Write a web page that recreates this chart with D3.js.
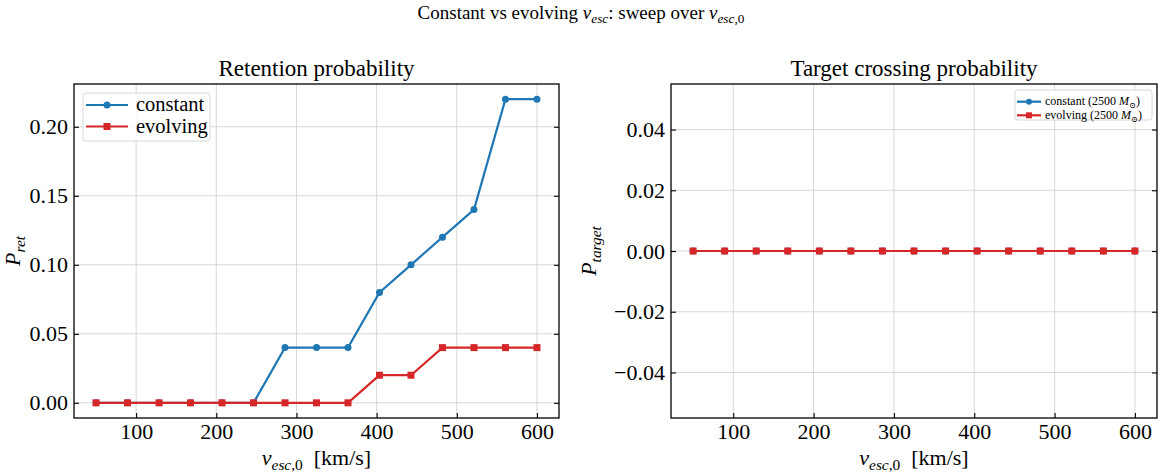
<!DOCTYPE html>
<html>
<head>
<meta charset="utf-8">
<script src="https://cdn.jsdelivr.net/npm/d3@7"></script>
<style>
  body { margin: 0; background: #fff; }
  svg text { font-family: "Liberation Serif", "DejaVu Serif", serif; fill: #000; }
</style>
</head>
<body>
<script>
// escape velocity sweep (km/s)
const vesc0 = [50, 89.29, 128.57, 167.86, 207.14, 246.43, 285.71, 325, 364.29, 403.57, 442.86, 482.14, 521.43, 560.71, 600];

// retention probability
const pRetConstant = [0, 0, 0, 0, 0, 0, 0.04, 0.04, 0.04, 0.08, 0.10, 0.12, 0.14, 0.22, 0.22];
const pRetEvolving = [0, 0, 0, 0, 0, 0, 0, 0, 0, 0.02, 0.02, 0.04, 0.04, 0.04, 0.04];

// target crossing probability
const pTargetConstant = [0, 0, 0, 0, 0, 0, 0, 0, 0, 0, 0, 0, 0, 0, 0];
const pTargetEvolving = [0, 0, 0, 0, 0, 0, 0, 0, 0, 0, 0, 0, 0, 0, 0];

const xTicks = [100, 200, 300, 400, 500, 600];
const yTicksRet = [0, 0.05, 0.10, 0.15, 0.20];
const yTicksTarget = [-0.04, -0.02, 0, 0.02, 0.04];

const WIDTH = 1162, HEIGHT = 476;
const BLUE = "#1f77b4", RED = "#d62728";
const SERIF = "'Liberation Serif', 'DejaVu Serif', serif";

const svg = d3.select("body").append("svg")
    .attr("width", WIDTH)
    .attr("height", HEIGHT);

// little helper for math-ish text: segments of [text, italic?, shift]
function mathText(sel, parts, size) {
    parts.forEach(p => {
        let [t, it, shift] = p;
        let ts = sel.append("tspan").text(t);
        if (it) ts.attr("font-style", "italic");
        if (shift === "sub") {
            ts.attr("font-size", size * 0.7).attr("baseline-shift", -size * 0.22);
        }
    });
    return sel;
}

function panel(opt) {
    const m = opt.box; // left, top, right, bottom in px
    const w = m.right - m.left, h = m.bottom - m.top;

    const g = svg.append("g").attr("transform", "translate(" + m.left + "," + m.top + ")");

    const x = d3.scaleLinear().domain([22.5, 627.5]).range([0, w]);
    const y = d3.scaleLinear().domain(opt.yDomain).range([h, 0]);

    // grid
    g.append("g").selectAll("line.gx").data(xTicks).enter().append("line")
        .attr("x1", d => x(d)).attr("x2", d => x(d))
        .attr("y1", 0).attr("y2", h)
        .attr("stroke", "#d4d4d4").attr("stroke-width", 0.9);
    g.append("g").selectAll("line.gy").data(opt.yTicks).enter().append("line")
        .attr("x1", 0).attr("x2", w)
        .attr("y1", d => y(d)).attr("y2", d => y(d))
        .attr("stroke", "#d4d4d4").attr("stroke-width", 0.9);

    // series
    const line = d3.line().x(d => x(d[0])).y(d => y(d[1]));
    const c = vesc0.map((v, i) => [v, opt.constant[i]]);
    const e = vesc0.map((v, i) => [v, opt.evolving[i]]);

    g.append("path").datum(c).attr("d", line)
        .attr("fill", "none").attr("stroke", BLUE).attr("stroke-width", 2.2);
    g.selectAll("circle.c").data(c).enter().append("circle")
        .attr("cx", d => x(d[0])).attr("cy", d => y(d[1]))
        .attr("r", 3.5).attr("fill", BLUE);

    g.append("path").datum(e).attr("d", line)
        .attr("fill", "none").attr("stroke", RED).attr("stroke-width", 2.2);
    g.selectAll("rect.e").data(e).enter().append("rect")
        .attr("x", d => x(d[0]) - 3.5).attr("y", d => y(d[1]) - 3.5)
        .attr("width", 7).attr("height", 7).attr("fill", RED);

    // axes (ticks pointing inward)
    const fmt = d3.format(".2f");
    const xAx = g.append("g").attr("transform", "translate(0," + h + ")")
        .call(d3.axisBottom(x).tickValues(xTicks).tickSize(-5).tickPadding(5));
    const yAx = g.append("g")
        .call(d3.axisLeft(y).tickValues(opt.yTicks).tickSize(-5).tickPadding(6)
            .tickFormat(d => fmt(d).replace("-", "\u2212")));
    const yAxR = g.append("g").attr("transform", "translate(" + w + ",0)")
        .call(d3.axisRight(y).tickValues(opt.yTicks).tickSize(-5).tickFormat(""));
    [xAx, yAx, yAxR].forEach(a => {
        a.attr("font-family", null);
        a.select(".domain").remove();
        a.selectAll(".tick line").attr("stroke", "#000").attr("stroke-width", 1.1);
        a.selectAll(".tick text").attr("font-size", 22).style("font-family", SERIF).attr("fill", "#000");
    });

    // frame
    g.append("rect").attr("width", w).attr("height", h)
        .attr("fill", "none").attr("stroke", "#000").attr("stroke-width", 1.3);

    // title
    g.append("text").attr("x", w / 2).attr("y", -8)
        .attr("text-anchor", "middle").attr("font-size", 23)
        .text(opt.title);

    // x label
    mathText(g.append("text").attr("x", w / 2).attr("y", h + 47)
        .attr("text-anchor", "middle").attr("font-size", 22),
        [["v", true], ["esc", true, "sub"], [",0", false, "sub"], ["  [km/s]", false]], 22)
        .attr("xml:space", "preserve");

    // y label
    mathText(g.append("text")
        .attr("transform", "translate(" + opt.yLabelX + "," + (h / 2) + ") rotate(-90)")
        .attr("text-anchor", "middle").attr("font-size", 22),
        [["P", true], [opt.ySub, true, "sub"]], 22);

    // legend
    const L = opt.legend;
    const lg = g.append("g").attr("transform", "translate(" + L.x + "," + L.y + ")");
    lg.append("rect").attr("width", L.w).attr("height", L.h).attr("rx", 3)
        .attr("fill", "#fff").attr("fill-opacity", 0.8)
        .attr("stroke", "#d8d8d8").attr("stroke-width", 1);
    L.items.forEach((it, i) => {
        const cy = L.row0 + i * L.dy;
        lg.append("line").attr("x1", L.hx0).attr("x2", L.hx1).attr("y1", cy).attr("y2", cy)
            .attr("stroke", it.color).attr("stroke-width", 2.2);
        const mx = (L.hx0 + L.hx1) / 2;
        if (it.marker === "o") {
            lg.append("circle").attr("cx", mx).attr("cy", cy).attr("r", L.ms / 2).attr("fill", it.color);
        } else {
            lg.append("rect").attr("x", mx - L.ms / 2).attr("y", cy - L.ms / 2)
                .attr("width", L.ms).attr("height", L.ms).attr("fill", it.color);
        }
        mathText(lg.append("text").attr("x", L.tx).attr("y", cy + L.fs * 0.3)
            .attr("font-size", L.fs).attr("xml:space", "preserve"), it.label, L.fs);
    });
}

panel({
    box: {left: 74, top: 84, right: 559, bottom: 418},
    yDomain: [-0.011, 0.231],
    yTicks: yTicksRet,
    constant: pRetConstant,
    evolving: pRetEvolving,
    title: "Retention probability",
    ySub: "ret",
    yLabelX: -54,
    legend: {
        x: 9, y: 9, w: 127, h: 48, row0: 12, dy: 21.5, hx0: 3, hx1: 45, tx: 53, fs: 20.5, ms: 7,
        items: [
            {color: BLUE, marker: "o", label: [["constant", false]]},
            {color: RED, marker: "s", label: [["evolving", false]]}
        ]
    }
});

panel({
    box: {left: 671, top: 84, right: 1157, bottom: 418},
    yDomain: [-0.055, 0.055],
    yTicks: yTicksTarget,
    constant: pTargetConstant,
    evolving: pTargetEvolving,
    title: "Target crossing probability",
    ySub: "target",
    yLabelX: -75,
    legend: {
        x: 344, y: 6, w: 137, h: 30, row0: 11.7, dy: 13.6, hx0: 2, hx1: 26, tx: 30, fs: 12, ms: 6,
        items: [
            {color: BLUE, marker: "o", label: [["constant (2500 ", false], ["M", true], ["\u2299", false, "sub"], [")", false]]},
            {color: RED, marker: "s", label: [["evolving (2500 ", false], ["M", true], ["\u2299", false, "sub"], [")", false]]}
        ]
    }
});

// figure title
mathText(svg.append("text").attr("x", WIDTH / 2).attr("y", 19)
    .attr("text-anchor", "middle").attr("font-size", 19),
    [["Constant vs evolving ", false], ["v", true], ["esc", true, "sub"], [": sweep over ", false],
     ["v", true], ["esc", true, "sub"], [",0", false, "sub"]], 19)
    .attr("xml:space", "preserve");
</script>
</body>
</html>
